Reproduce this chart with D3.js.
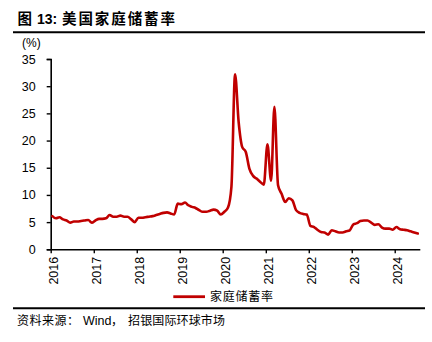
<!DOCTYPE html>
<html>
<head>
<meta charset="utf-8">
<script src="https://cdn.jsdelivr.net/npm/d3@7"></script>
<style>
  html, body { margin: 0; padding: 0; background: #fff; }
  svg { display: block; }
  text { font-family: "Liberation Sans", Arial, "Noto Sans CJK SC", sans-serif; }
  .cjk { font-family: "Noto Sans CJK SC", sans-serif; }
</style>
</head>
<body>
<svg id="chart" width="432" height="342"></svg>
<script>
// ---- data ----
const figLabel = "图";
const figNumber = "13:";
const titleLabel = "美国家庭储蓄率";
const seriesName = "家庭储蓄率";
const unitLabel = "(%)";
const sourcePrefix = "资料来源：";
const sourceVendor = "Wind";
const sourceComma = "，";
const sourceOrg = "招银国际环球市场";
const startMonth = "2016-01";
const yearTicks = ["2016", "2017", "2018", "2019", "2020", "2021", "2022", "2023", "2024"];
const yTicks = [0, 5, 10, 15, 20, 25, 30, 35];
const savingRate = [
  // 2016
  6.1, 5.7, 5.9, 5.5, 5.3, 4.9, 5.1, 5.1, 5.2, 5.3, 5.4, 4.9,
  // 2017
  5.3, 5.6, 5.6, 5.7, 6.3, 6.0, 6.0, 6.2, 6.0, 6.0, 5.5, 5.0,
  // 2018
  5.8, 5.8, 5.9, 6.0, 6.1, 6.3, 6.5, 6.7, 6.8, 6.6, 6.4, 8.4,
  // 2019
  8.3, 8.6, 8.1, 7.8, 7.6, 7.2, 6.9, 6.9, 7.1, 7.3, 7.1, 6.4,
  // 2020
  6.9, 7.7, 11.5, 32.2, 23.5, 18.8, 17.9, 14.8, 13.5, 13.0, 12.4, 11.9,
  // 2021
  19.3, 12.6, 26.2, 11.8, 10.2, 8.7, 9.4, 9.0, 7.2, 6.7, 6.5, 6.4,
  // 2022
  4.3, 4.1, 3.6, 3.2, 3.1, 2.7, 3.5, 3.3, 3.1, 3.1, 3.3, 3.5,
  // 2023
  4.6, 4.8, 5.2, 5.3, 5.3, 4.9, 4.5, 4.6, 4.0, 3.8, 3.8, 3.6,
  // 2024
  4.1, 3.7, 3.6, 3.5, 3.3, 3.1, 2.9
];

// ---- build ----
const parseMonth = d3.utcParse("%Y-%m");
const start = parseMonth(startMonth);
const data = savingRate.map((v, i) => ({
  date: d3.utcDay.offset(d3.utcMonth.offset(start, i), 14), // mid-month
  value: v
}));
const endDate = d3.utcMonth.offset(start, savingRate.length);

const svg = d3.select("#chart");
const x = d3.scaleUtc().domain([start, endDate]).range([50.7, 419.8]);
const y = d3.scaleLinear().domain([0, 35]).range([249.3, 59]);

// title
svg.append("text").attr("class", "cjk").attr("x", 17.5).attr("y", 24)
  .attr("font-size", 14.5).attr("font-weight", 700).attr("fill", "#000").text(figLabel);
svg.append("text").attr("x", 37).attr("y", 24)
  .attr("font-size", 14).attr("font-weight", 700).attr("fill", "#000").text(figNumber);
svg.append("text").attr("class", "cjk").attr("x", 62).attr("y", 24)
  .attr("font-size", 14.5).attr("font-weight", 700).attr("fill", "#000")
  .attr("textLength", 113).attr("lengthAdjust", "spacing").text(titleLabel);
svg.append("line").attr("x1", 13).attr("x2", 425).attr("y1", 32.3).attr("y2", 32.3)
  .attr("stroke", "#000").attr("stroke-width", 2);

// unit
svg.append("text").attr("x", 22).attr("y", 47).attr("font-size", 12).attr("fill", "#000").text(unitLabel);

// y axis
const yAxis = d3.axisLeft(y).tickValues(yTicks).tickSize(4).tickPadding(11).tickFormat(d3.format("d"));
const gy = svg.append("g").attr("transform", "translate(50.7,0)").call(yAxis);
gy.select(".domain").attr("stroke", "#000").attr("stroke-width", 1.6);
gy.selectAll(".tick line").attr("stroke", "#000").attr("stroke-width", 1.4);
gy.selectAll(".tick text").attr("font-size", 12.5).attr("fill", "#000")
  .attr("font-family", "'Liberation Sans', Arial, sans-serif");

// x axis
const yearDates = yearTicks.map(s => d3.utcParse("%Y")(s));
const xAxis = d3.axisBottom(x).tickValues(yearDates).tickSize(4).tickSizeOuter(0)
  .tickFormat((d, i) => yearTicks[i]);
const gx = svg.append("g").attr("transform", `translate(0,${y(0)})`).call(xAxis);
gx.select(".domain").attr("stroke", "#000").attr("stroke-width", 1.6);
gx.selectAll(".tick line").attr("stroke", "#000").attr("stroke-width", 1.4);
gx.selectAll(".tick text")
  .attr("font-size", 12.5).attr("fill", "#000")
  .attr("font-family", "'Liberation Sans', Arial, sans-serif")
  .attr("text-anchor", "end")
  .attr("y", 0).attr("dy", 0)
  .attr("transform", "translate(6.5,7.5) rotate(-90)");

// line
const line = d3.line().x(d => x(d.date)).y(d => y(d.value)).curve(d3.curveMonotoneX);
svg.append("path").datum(data).attr("d", line)
  .attr("fill", "none").attr("stroke", "#c00000").attr("stroke-width", 2.6)
  .attr("stroke-linejoin", "round").attr("stroke-linecap", "round");

// legend
svg.append("line").attr("x1", 173.3).attr("x2", 205).attr("y1", 296.7).attr("y2", 296.7)
  .attr("stroke", "#c00000").attr("stroke-width", 2.8);
svg.append("text").attr("class", "cjk").attr("x", 210).attr("y", 301)
  .attr("font-size", 12).attr("fill", "#000")
  .attr("textLength", 63).attr("lengthAdjust", "spacing").text(seriesName);

// bottom rule
svg.append("line").attr("x1", 13).attr("x2", 425).attr("y1", 308.3).attr("y2", 308.3)
  .attr("stroke", "#000").attr("stroke-width", 2);

// source
svg.append("text").attr("class", "cjk").attr("x", 17).attr("y", 324.5)
  .attr("font-size", 12).attr("fill", "#000")
  .attr("textLength", 62).attr("lengthAdjust", "spacing").text(sourcePrefix);
svg.append("text").attr("x", 83).attr("y", 324.5)
  .attr("font-size", 12.5).attr("fill", "#000").text(sourceVendor);
svg.append("text").attr("class", "cjk").attr("x", 111).attr("y", 324.5)
  .attr("font-size", 12).attr("fill", "#000").text(sourceComma);
svg.append("text").attr("class", "cjk").attr("x", 128).attr("y", 324.5)
  .attr("font-size", 12).attr("fill", "#000")
  .attr("textLength", 97).attr("lengthAdjust", "spacing").text(sourceOrg);
</script>
</body>
</html>
